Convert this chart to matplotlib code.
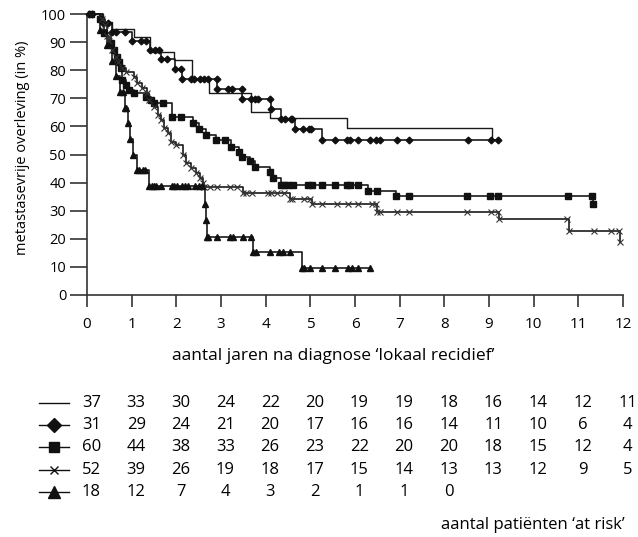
import matplotlib
matplotlib.use("Agg")
import matplotlib.pyplot as plt
import matplotlib.transforms as mtransforms
from matplotlib.lines import Line2D
import numpy as np

plt.rcParams['font.family'] = ['Open Sans', 'DejaVu Sans']

# step curves: time (years) and survival (%) after each drop
t_thin = [0, 0.35, 0.55, 1.05, 1.40, 1.95, 2.36, 2.74, 3.68, 4.10, 5.83, 9.06]
s_thin = [100, 97.3, 94.6, 91.9, 86.5, 83.8, 76.9, 71.8, 65.2, 62.9, 59.3, 55.2]
end_thin = 9.06

t_dia = [0, 0.35, 0.55, 1.0, 1.4, 1.65, 1.97, 2.13, 2.92, 3.48, 4.13, 4.35, 4.65, 5.25]
s_dia = [100, 96.8, 93.6, 90.3, 87.1, 83.9, 80.4, 76.8, 73.2, 69.6, 66.2, 62.5, 59.0, 55.2]
end_dia = 9.21
c_dia = [0.05, 0.12, 0.47, 0.65, 0.85, 1.21, 1.33, 1.53, 1.62, 1.8, 2.1, 2.33, 2.4, 2.52,
         2.63, 2.7, 2.9, 3.15, 3.25, 3.46, 3.68, 3.75, 3.83, 4.1, 4.43, 4.56, 4.6, 4.83,
         4.97, 5.01, 5.55, 5.82, 5.89, 6.07, 6.34, 6.47, 6.56, 6.94, 7.21, 8.52, 9.05, 9.21]

t_sq = [0, 0.3, 0.38, 0.53, 0.61, 0.67, 0.72, 0.76, 0.79, 0.87, 0.94, 1.06, 1.32, 1.43,
        1.51, 1.90, 2.37, 2.5, 2.67, 2.89, 3.23, 3.4, 3.48, 3.64, 3.75, 4.09, 4.16, 4.35,
        6.3, 6.92, 11.32]
s_sq = [100, 98.3, 93.3, 89.6, 87.2, 84.8, 83.0, 80.7, 76.5, 74.7, 73.0, 71.8, 70.6, 69.4,
        68.4, 63.2, 61.1, 59.0, 57.0, 55.2, 52.8, 51.0, 49.2, 47.6, 45.7, 43.9, 41.5, 39.1,
        37.1, 35.2, 32.4]
end_sq = 11.32
c_sq = [0.1, 1.7, 2.1, 3.1, 4.4, 4.5, 4.62, 4.95, 5.03, 5.25, 5.55, 5.82, 5.89, 6.07, 6.49,
        7.2, 8.51, 9.03, 9.2, 10.77, 11.3]

t_x = [0, 0.34, 0.4, 0.45, 0.5, 0.56, 0.64, 0.7, 0.79, 0.87, 1.06, 1.12, 1.24, 1.35, 1.39,
       1.51, 1.58, 1.66, 1.73, 1.81, 1.88, 1.99, 2.14, 2.22, 2.33, 2.44, 2.52, 2.59, 2.63,
       3.49, 4.54, 5.03, 6.49, 9.22, 10.78, 11.94]
s_x = [100, 98.1, 96.2, 92.3, 90.4, 87.2, 84.8, 82.9, 80.8, 79.5, 77.7, 75.3, 73.5, 71.8,
       69.4, 67.0, 64.0, 62.3, 59.3, 57.5, 54.6, 53.4, 49.8, 46.9, 45.1, 43.3, 41.5, 39.7,
       38.3, 36.2, 34.2, 32.4, 29.6, 27.0, 22.8, 19.0]
end_x = 11.94
c_x = [2.75, 2.9, 3.2, 3.35, 3.55, 3.7, 4.05, 4.12, 4.25, 4.4, 4.6, 4.85, 5.0, 5.25, 5.59,
       5.85, 6.07, 6.37, 6.48, 6.56, 6.94, 7.22, 8.51, 9.05, 9.2, 10.75, 11.34, 11.73, 11.92]

t_tri = [0, 0.3, 0.45, 0.55, 0.65, 0.73, 0.85, 0.92, 0.97, 1.03, 1.13, 1.39, 2.65, 2.66,
         2.69, 3.72, 4.82]
s_tri = [100, 94.4, 88.9, 83.3, 77.8, 72.2, 66.7, 61.1, 55.6, 50.0, 44.4, 38.9, 32.4, 26.7,
         20.8, 15.4, 9.6]
end_tri = 6.34
c_tri = [0.8, 0.88, 1.17, 1.25, 1.3, 1.45, 1.5, 1.55, 1.66, 1.9, 1.95, 2.02, 2.12, 2.2,
         2.27, 2.42, 2.5, 2.58, 2.72, 2.9, 3.2, 3.27, 3.5, 3.68, 3.78, 4.1, 4.3, 4.38, 4.55,
         4.85, 5.0, 5.25, 5.55, 5.85, 5.93, 6.07, 6.34]

# at risk table
years = list(range(13))
risk_thin = [37, 33, 30, 24, 22, 20, 19, 19, 18, 16, 14, 12, 11]
risk_dia = [31, 29, 24, 21, 20, 17, 16, 16, 14, 11, 10, 6, 4]
risk_sq = [60, 44, 38, 33, 26, 23, 22, 20, 20, 18, 15, 12, 4]
risk_x = [52, 39, 26, 19, 18, 17, 15, 14, 13, 13, 12, 9, 5]
risk_tri = [18, 12, 7, 4, 3, 2, 1, 1, 0]

W, H = 638, 537
fig = plt.figure(figsize=(W / 100, H / 100), dpi=100)
ax = fig.add_axes([87 / W, 1 - 295 / H, 536 / W, 281 / H])


def step_value(t, s, when):
    i = np.searchsorted(np.array(t), np.array(when), side='right') - 1
    return np.array(s)[i]


def draw_curve(t, s, end, marker, ms, cens=None, lw=1.2):
    tt = list(t) + [end]
    ss = list(s) + [s[-1]]
    ax.step(tt, ss, where='post', color='#1a1a1a', lw=lw, clip_on=False, zorder=3)
    if marker is None:
        return
    mk = dict(marker=marker, ms=ms, color='#111111', ls='none', clip_on=False, zorder=4)
    if marker == 'x':
        mk.update(mew=0.8, color='#333333')
    ax.plot(t[1:], s[1:], **mk)
    if cens:
        ax.plot(cens, step_value(t, s, cens), **mk)


draw_curve(t_thin, s_thin, end_thin, None, 0, lw=1.0)
draw_curve(t_dia, s_dia, end_dia, 'D', 3.4, c_dia)
draw_curve(t_sq, s_sq, end_sq, 's', 3.8, c_sq)
draw_curve(t_x, s_x, end_x, 'x', 4.5, c_x)
draw_curve(t_tri, s_tri, end_tri, '^', 5.0, c_tri)

ax.set_xlim(0, 12)
ax.set_ylim(0, 100)
ax.set_xticks(years)
ax.set_yticks(range(0, 101, 10))
ax.tick_params(axis='x', length=8.5, width=1.2, pad=7, labelsize=11, color='#333333')
ax.tick_params(axis='y', length=12, width=1.2, pad=3, labelsize=10.5, color='#333333')
for side in ['top', 'right']:
    ax.spines[side].set_visible(False)
for side in ['left', 'bottom']:
    ax.spines[side].set_linewidth(1.2)
    ax.spines[side].set_color('#333333')

fig.text(23 / W, 1 - 148 / H, 'metastasevrije overleving (in %)', rotation=90,
         ha='center', va='center', fontsize=10.5)
fig.text(172 / W, 1 - 356 / H, "aantal jaren na diagnose \u2018lokaal recidief\u2019",
         ha='left', va='center', fontsize=12.5)

# at risk table below the chart
trans = mtransforms.blended_transform_factory(ax.transData, fig.transFigure)
rows = [(risk_thin, None, 403), (risk_dia, 'D', 425), (risk_sq, 's', 447),
        (risk_x, 'x', 470), (risk_tri, '^', 492)]
msize = {'D': 7, 's': 7, 'x': 6, '^': 9}
for counts, marker, ypx in rows:
    yf = 1 - ypx / H
    for yr, n in zip(years, counts):
        ax.text(yr + 0.1, yf, str(n), transform=trans, ha='center', va='center',
                fontsize=12, clip_on=False)
    fig.add_artist(Line2D([39 / W, 69 / W], [yf, yf], color='#111111', lw=1.0,
                         transform=fig.transFigure))
    if marker:
        fig.add_artist(Line2D([54 / W], [yf], marker=marker, ms=msize[marker],
                             mew=1.0, color='#111111', transform=fig.transFigure))

fig.text(625 / W, 1 - 525 / H, "aantal pati\u00ebnten \u2018at risk\u2019",
         ha='right', va='center', fontsize=12)

fig.savefig('out.png', dpi=100)
